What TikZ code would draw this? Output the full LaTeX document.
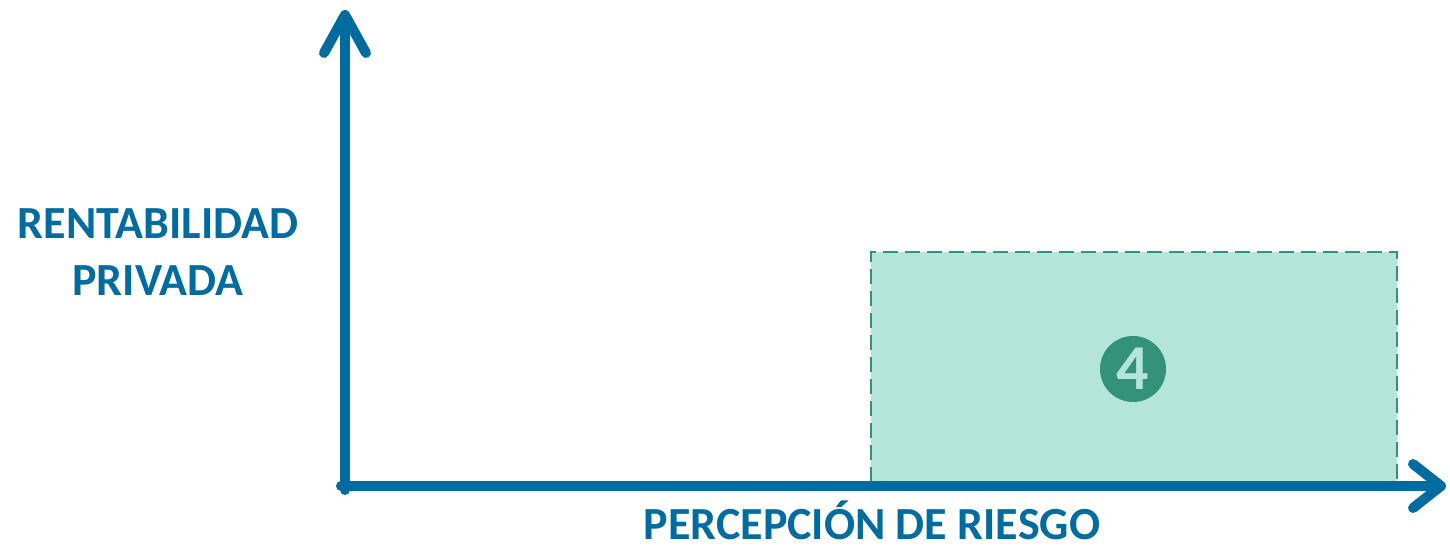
\documentclass[tikz,border=0pt]{standalone}
\usepackage{fontspec}
\setmainfont{Carlito}
\usetikzlibrary{arrows.meta}
\definecolor{axisblue}{HTML}{006B9E}
\definecolor{mint}{HTML}{B3E5D9}
\definecolor{seagreen}{HTML}{339278}
\begin{document}
\begin{tikzpicture}[
  x=0.5pt, y=0.5pt,
  axis/.style = {draw=axisblue, line width=5pt, line cap=round},
  axislabel/.style = {text=axisblue, font=\fontsize{23}{28.5}\selectfont\bfseries, align=center, inner sep=0.5pt},
  zone/.style = {fill=mint, draw=seagreen, line width=1.2pt, dash pattern=on 7.5pt off 3.5pt},
  badge/.style = {circle, fill=seagreen, text=mint, minimum size=33pt, inner sep=0pt,
    font=\fontsize{32}{32}\selectfont\bfseries}]
  \useasboundingbox (0,0) rectangle (1450,556);
  % zone 4
  \draw[zone] (871,74) rectangle (1397,304);
  \node[badge] (four) at (1133,187) {4};
  % axes
  \coordinate (origin) at (345,70);
  \coordinate (ytip) at (345,546);
  \coordinate (xtip) at (1446,70);
  \draw[axis, -{Straight Barb[round, length=19pt, width=21pt, line width=5pt]}] ([yshift=-2pt]origin) -- (ytip);
  \draw[axis, -{Straight Barb[round, length=14pt, width=22pt, line width=5pt]}] ([xshift=-2pt]origin) -- (xtip);
  % labels
  \node[axislabel] (ylabel) at (158,304) {RENTABILIDAD\\PRIVADA};
  \node[axislabel, align=none, text depth=0pt, inner sep=0pt, anchor=base] (xlabel) at (872,16) {PERCEPCIÓN DE RIESGO};
\end{tikzpicture}
\end{document}
